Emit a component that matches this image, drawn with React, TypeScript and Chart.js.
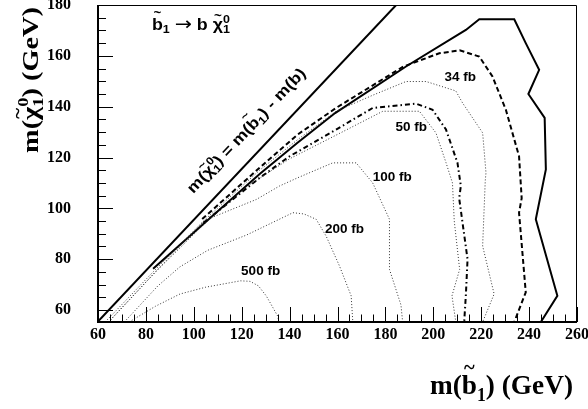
import React, { useEffect, useRef } from 'react';
import { Chart, registerables } from 'chart.js';

Chart.register(...registerables);

// ---- axes ----
const X_MIN = 60;
const X_MAX = 260;
const Y_MIN = 55.3;
const Y_MAX = 180;
const xTickValues = [60, 80, 100, 120, 140, 160, 180, 200, 220, 240, 260];
const yTickValues = [60, 80, 100, 120, 140, 160, 180];
const MINOR_STEP = 5;

// ---- curves (m(b1) in GeV, m(chi) in GeV) ----
const kinematicX = [59.8, 184.5];
const kinematicY = [55.3, 180];

const solidX = [83, 100, 127.5, 143.3, 159, 188.6, 213.6, 219.2, 233.8, 238.6, 244.2, 239.7, 246.5, 247, 242.8, 251.8, 244.9];
const solidY = [76.2, 90.5, 113.5, 125.8, 137.5, 155.8, 170.2, 174.4, 174.4, 165, 154.5, 145, 135.6, 115.3, 95.7, 65.6, 55.3];

const dashedX = [103.5, 127.5, 143.3, 159.4, 187.5, 202.5, 211, 219.2, 224.7, 230.3, 235.8, 236.9, 235.8, 238.6, 233.8];
const dashedY = [95.8, 116, 129, 139.5, 155.8, 161, 162.2, 159.7, 151.9, 138.8, 120.5, 104, 98.3, 67, 55.3];

const dashDotX = [104, 127.5, 140, 159.4, 174.7, 192.8, 199.7, 205.3, 210.1, 211.5, 210.8, 214.3, 213.6, 212.9];
const dashDotY = [94.3, 112, 120.5, 131, 139.5, 141.2, 138.8, 131, 117.9, 108.8, 104, 80, 66, 55.3];

const c34X = [63, 83, 104, 127.5, 143.3, 159.4, 174.7, 188.6, 197, 209.4, 212.2, 220.6, 222, 221.7, 220.6, 225.4, 220.6];
const c34Y = [55.3, 75, 95, 115, 127, 138.2, 144.5, 149.9, 149.9, 146.2, 141.5, 129.7, 114, 111, 85.2, 66.3, 55.3];

const c50X = [64.5, 84, 104, 122, 140, 159.4, 178.9, 194.2, 201.1, 205.3, 208, 208.75, 211, 207.8, 209.4];
const c50Y = [55.3, 75, 93.5, 108.5, 119.5, 128.8, 138.2, 138.2, 129.7, 118, 110, 95, 76, 65.6, 55.3];

const c100X = [64.3, 85, 104.4, 126.1, 135.8, 143.3, 158, 167.8, 174.7, 181.7, 181.7, 186.5, 187.2];
const c100Y = [55.3, 76, 95.2, 103.5, 108.8, 112, 117.9, 117.9, 110, 95.7, 76, 62, 55.3];

const c200X = [71, 85, 94.2, 105.8, 122, 141.4, 146, 151.1, 155.3, 160.8, 165.7, 166.4];
const c200Y = [55.3, 69.5, 77, 83.5, 89.5, 98.3, 97.8, 95.7, 89, 77.4, 65.6, 55.3];

const c500X = [73, 84, 94.2, 105, 119.5, 123.5, 127, 130.3, 133, 135.1, 135.5];
const c500Y = [55.3, 61.5, 66.3, 69, 71.5, 71.3, 69.5, 65.5, 61, 57.5, 55.3];

// ---- contour labels ----
const contourLabels = ['34 fb', '50 fb', '100 fb', '200 fb', '500 fb'];
const contourLabelX = [211.25, 190.8, 182.9, 162.9, 127.9];
const contourLabelY = [151.4, 131.8, 112.2, 91.8, 75.3];

const SERIF = '"Liberation Serif", "DejaVu Serif", serif';
const SANS = '"Liberation Sans", Arial, sans-serif';

type Piece = { t: string; scale?: number; dy?: number; adv?: boolean; tilde?: number; font?: string; weight?: string };

function measureRich(ctx: CanvasRenderingContext2D, pieces: Piece[], size: number, family: string) {
  let w = 0;
  for (const p of pieces) {
    ctx.font = `${p.weight ?? 'bold'} ${size * (p.scale ?? 1)}px ${p.font ?? family}`;
    if (p.adv !== false) w += ctx.measureText(p.t).width;
  }
  return w;
}

function drawRich(
  ctx: CanvasRenderingContext2D,
  x: number,
  y: number,
  angle: number,
  pieces: Piece[],
  family: string,
  size: number,
  targetLen: number
) {
  const natural = measureRich(ctx, pieces, size, family);
  const sx = targetLen / natural;
  ctx.save();
  ctx.translate(x, y);
  ctx.rotate(angle);
  ctx.scale(sx, 1);
  ctx.textAlign = 'left';
  ctx.textBaseline = 'alphabetic';
  ctx.fillStyle = '#000';
  let cx = 0;
  for (const p of pieces) {
    const s = size * (p.scale ?? 1);
    const fam = p.font ?? family;
    const wt = p.weight ?? 'bold';
    ctx.font = `${wt} ${s}px ${fam}`;
    const w = ctx.measureText(p.t).width;
    ctx.fillText(p.t, cx, (p.dy ?? 0) * size);
    if (p.tilde !== undefined) {
      const ts = s * 0.75;
      ctx.font = `bold ${ts}px ${fam}`;
      const tw = ctx.measureText('~').width;
      ctx.fillText('~', cx + (w - tw) / 2, -p.tilde * s);
    }
    if (p.adv !== false) cx += w;
  }
  ctx.restore();
}

const overlayPlugin = {
  id: 'overlay',
  afterDatasetsDraw(chart: any) {
    const { ctx, chartArea: a } = chart;
    const xs = chart.scales.x;
    const ys = chart.scales.y;
    ctx.save();
    ctx.strokeStyle = '#000';
    // frame
    ctx.lineWidth = 1;
    ctx.beginPath();
    ctx.moveTo(a.left, a.top + 0.5);
    ctx.lineTo(a.right - 0.5, a.top + 0.5);
    ctx.lineTo(a.right - 0.5, a.bottom);
    ctx.stroke();
    ctx.lineWidth = 2;
    ctx.beginPath();
    ctx.moveTo(a.left, a.top);
    ctx.lineTo(a.left, a.bottom);
    ctx.lineTo(a.right, a.bottom);
    ctx.stroke();

    // ticks (inward)
    ctx.lineWidth = 1;
    ctx.beginPath();
    for (let v = X_MIN; v <= X_MAX + 1e-6; v += MINOR_STEP) {
      const px = Math.round(xs.getPixelForValue(v)) + 0.5;
      const major = xTickValues.includes(v);
      ctx.moveTo(px, a.bottom);
      ctx.lineTo(px, a.bottom - (major ? 15 : 7.5));
    }
    for (let v = 60; v <= Y_MAX + 1e-6; v += MINOR_STEP) {
      const py = Math.round(ys.getPixelForValue(v)) + 0.5;
      const major = yTickValues.includes(v);
      ctx.moveTo(a.left, py);
      ctx.lineTo(a.left + (major ? 15 : 8), py);
    }
    ctx.stroke();

    // contour labels
    ctx.fillStyle = '#000';
    ctx.font = `bold 13.5px ${SANS}`;
    ctx.textAlign = 'center';
    ctx.textBaseline = 'middle';
    contourLabels.forEach((t, i) => {
      ctx.fillText(t, xs.getPixelForValue(contourLabelX[i]), ys.getPixelForValue(contourLabelY[i]));
    });

    // process title
    drawRich(
      ctx,
      xs.getPixelForValue(82.5),
      ys.getPixelForValue(170.2),
      0,
      [
        { t: 'b', tilde: 0.8 },
        { t: '1', scale: 0.7, dy: 0.22 },
        { t: ' ' },
        { t: '\u2192', font: '"DejaVu Sans", sans-serif', weight: 'normal', scale: 1.15, dy: -0.02 },
        { t: ' b ' },
        { t: '\u03C7', tilde: 0.62 },
        { t: '1', scale: 0.7, dy: 0.22, adv: false },
        { t: '0', scale: 0.7, dy: -0.45 },
      ],
      SANS,
      16,
      78
    );

    // kinematic limit label along the line
    const p0x = xs.getPixelForValue(kinematicX[0]);
    const p0y = ys.getPixelForValue(kinematicY[0]);
    const p1x = xs.getPixelForValue(kinematicX[1]);
    const p1y = ys.getPixelForValue(kinematicY[1]);
    const ang = Math.atan2(p1y - p0y, p1x - p0x);
    drawRich(
      ctx,
      xs.getPixelForValue(99.8),
      ys.getPixelForValue(105.6),
      ang,
      [
        { t: 'm(' },
        { t: '\u03C7', tilde: 0.62 },
        { t: '1', scale: 0.7, dy: 0.22, adv: false },
        { t: '0', scale: 0.7, dy: -0.45 },
        { t: ') = m(' },
        { t: 'b', tilde: 0.8 },
        { t: '1', scale: 0.7, dy: 0.22 },
        { t: ') - m(b)' },
      ],
      SANS,
      15.5,
      165
    );
    ctx.restore();
  },
  afterDraw(chart: any) {
    const { ctx } = chart;
    // y axis title
    drawRich(
      ctx,
      38,
      153,
      -Math.PI / 2,
      [
        { t: 'm(' },
        { t: '\u03C7', tilde: 0.6 },
        { t: '1', scale: 0.65, dy: 0.22, adv: false },
        { t: '0', scale: 0.65, dy: -0.42 },
        { t: ') (GeV)' },
      ],
      SERIF,
      24,
      146
    );
    // x axis title
    drawRich(
      ctx,
      430,
      394,
      0,
      [
        { t: 'm(' },
        { t: 'b', tilde: 0.72 },
        { t: '1', scale: 0.65, dy: 0.25 },
        { t: ') (GeV)' },
      ],
      SERIF,
      28,
      143
    );
  },
};

function toPts(xs: number[], ys: number[]) {
  return xs.map((x, i) => ({ x, y: ys[i] }));
}

export default function App() {
  const ref = useRef<HTMLCanvasElement | null>(null);
  useEffect(() => {
    if (!ref.current) return;
    const line = (xs: number[], ys: number[], width: number, dash: number[], color = '#000') => ({
      data: toPts(xs, ys),
      showLine: true,
      borderColor: color,
      backgroundColor: color,
      borderWidth: width,
      borderDash: dash,
      pointRadius: 0,
      fill: false,
      tension: 0,
    });
    const chart = new Chart(ref.current, {
      type: 'scatter',
      data: {
        datasets: [
          line(c500X, c500Y, 1, [1, 2], '#333'),
          line(c200X, c200Y, 1, [1, 2], '#333'),
          line(c100X, c100Y, 1, [1, 2], '#333'),
          line(c50X, c50Y, 1, [1, 2], '#333'),
          line(c34X, c34Y, 1, [1, 2], '#333'),
          line(dashDotX, dashDotY, 2, [5, 3, 1.5, 3]),
          line(dashedX, dashedY, 2, [5, 3]),
          line(solidX, solidY, 2, []),
          line(kinematicX, kinematicY, 2, []),
        ] as any,
      },
      options: {
        responsive: false,
        animation: false,
        devicePixelRatio: 1,
        layout: { padding: { left: 0, top: 5, right: 11, bottom: 0 } },
        plugins: { legend: { display: false }, tooltip: { enabled: false } },
        scales: {
          x: {
            type: 'linear',
            min: X_MIN,
            max: X_MAX,
            afterBuildTicks: (s: any) => {
              s.ticks = xTickValues.map((v) => ({ value: v }));
            },
            afterFit: (s: any) => {
              s.height = 87;
              s.paddingLeft = 0;
              s.paddingRight = 0;
            },
            ticks: {
              font: { family: SERIF, weight: 'bold', size: 16 },
              color: '#000',
              padding: -5,
              maxRotation: 0,
              autoSkip: false,
            },
            grid: { display: false },
            border: { display: false },
          },
          y: {
            type: 'linear',
            min: Y_MIN,
            max: Y_MAX,
            afterBuildTicks: (s: any) => {
              s.ticks = yTickValues.map((v) => ({ value: v }));
            },
            afterFit: (s: any) => {
              s.width = 98;
              s.paddingTop = 0;
              s.paddingBottom = 0;
            },
            ticks: {
              font: { family: SERIF, weight: 'bold', size: 16 },
              color: '#000',
              padding: 19,
              autoSkip: false,
            },
            grid: { display: false },
            border: { display: false },
          },
        },
      } as any,
      plugins: [overlayPlugin],
    });
    return () => chart.destroy();
  }, []);
  return (
    <div style={{ position: 'fixed', left: 0, top: 0, width: 588, height: 409, background: '#fff' }}>
      <canvas ref={ref} width={588} height={409} style={{ display: 'block' }} />
    </div>
  );
}
